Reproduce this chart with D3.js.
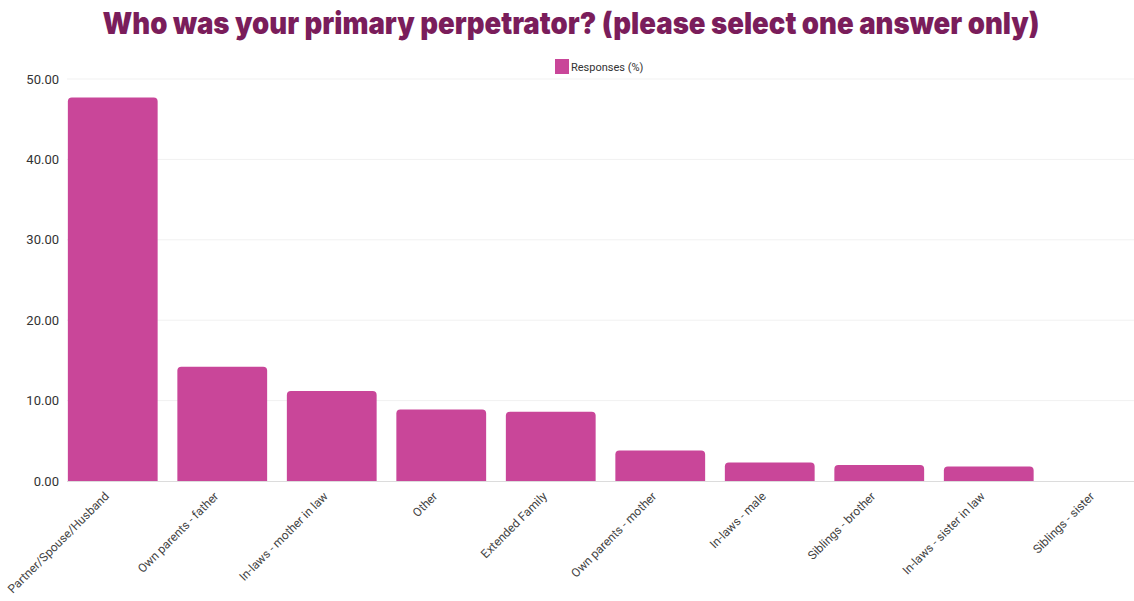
<!DOCTYPE html>
<html>
<head>
<meta charset="utf-8">
<script src="https://cdn.jsdelivr.net/npm/d3@7"></script>
<style>
  html, body { margin: 0; padding: 0; background: #ffffff; }
  svg { display: block; }
</style>
</head>
<body>
<svg id="chart" width="1134" height="601"></svg>
<script>
// Survey answers and their share of responses (%)
const categories = [
  "Partner/Spouse/Husband",
  "Own parents - father",
  "In-laws - mother in law",
  "Other",
  "Extended Family",
  "Own parents - mother",
  "In-laws - male",
  "Siblings - brother",
  "In-laws - sister in law",
  "Siblings - sister"
];
const responses = [47.7, 14.2, 11.2, 8.9, 8.6, 3.8, 2.3, 2.0, 1.8, 0];
const yTicks = [0, 10, 20, 30, 40, 50];
const seriesName = "Responses (%)";
const title = "Who was your primary perpetrator? (please select one answer only)";

const W = 1134, H = 601;
const margin = { top: 79, left: 58 };
const plotBottom = 481;

const svg = d3.select("#chart");

const x = d3.scaleBand()
  .domain(categories)
  .range([margin.left, margin.left + 109.5 * categories.length])
  .paddingInner(0.18)
  .paddingOuter(0.09);

const y = d3.scaleLinear()
  .domain([0, 50])
  .range([plotBottom, margin.top]);

// Title
svg.append("text")
  .attr("x", 571)
  .attr("y", 34)
  .attr("text-anchor", "middle")
  .attr("font-family", "Inter, 'Open Sans', sans-serif")
  .attr("font-weight", 900)
  .attr("font-size", 30)
  .attr("fill", "#7a1d5b")
  .attr("textLength", 937)
  .attr("lengthAdjust", "spacingAndGlyphs")
  .text(title);

// Legend
const legend = svg.append("g").attr("transform", "translate(555,59)");
legend.append("rect")
  .attr("width", 14).attr("height", 15)
  .attr("fill", "#c94699");
legend.append("text")
  .attr("x", 16).attr("y", 12)
  .attr("font-family", "Roboto, 'Liberation Sans', sans-serif")
  .attr("font-size", 11)
  .attr("fill", "#333")
  .text(seriesName);

// Gridlines
svg.append("g")
  .selectAll("line")
  .data(yTicks.filter(d => d > 0))
  .join("line")
  .attr("x1", 67).attr("x2", W)
  .attr("y1", d => y(d)).attr("y2", d => y(d))
  .attr("stroke", "#f1f1f1")
  .attr("stroke-width", 1);

// Y axis labels
const yAxis = d3.axisLeft(y)
  .tickValues(yTicks)
  .tickFormat(d3.format(".2f"))
  .tickSize(0)
  .tickPadding(0);
const yg = svg.append("g")
  .attr("transform", "translate(59,0)")
  .call(yAxis);
yg.select(".domain").remove();
yg.selectAll("text")
  .attr("font-family", "Roboto, 'Liberation Sans', sans-serif")
  .attr("font-size", 13)
  .attr("fill", "#333");

// Bars with rounded top corners
const r = 4;
function barPath(d, i) {
  const x0 = x(categories[i]);
  const w = x.bandwidth();
  const y0 = y(d);
  const h = plotBottom - y0;
  if (h <= 0) return "";
  const rr = Math.min(r, h);
  return `M${x0},${plotBottom}V${y0 + rr}Q${x0},${y0} ${x0 + rr},${y0}H${x0 + w - rr}Q${x0 + w},${y0} ${x0 + w},${y0 + rr}V${plotBottom}Z`;
}
svg.append("g")
  .selectAll("path")
  .data(responses)
  .join("path")
  .attr("d", barPath)
  .attr("fill", "#c94699");

// Baseline
svg.append("line")
  .attr("x1", 67).attr("x2", W)
  .attr("y1", plotBottom + 0.5).attr("y2", plotBottom + 0.5)
  .attr("stroke", "#dcdcdc");

// X axis labels, rotated
const xAxis = d3.axisBottom(x).tickSize(0).tickPadding(0);
const xg = svg.append("g")
  .attr("transform", `translate(0,${plotBottom})`)
  .call(xAxis);
xg.select(".domain").remove();
xg.selectAll("text")
  .attr("font-family", "Roboto, 'Liberation Sans', sans-serif")
  .attr("font-size", 12)
  .attr("fill", "#444")
  .attr("text-anchor", "end")
  .attr("dy", null)
  .attr("y", 0)
  .attr("transform", "translate(-3,16) rotate(-45)");
</script>
</body>
</html>
